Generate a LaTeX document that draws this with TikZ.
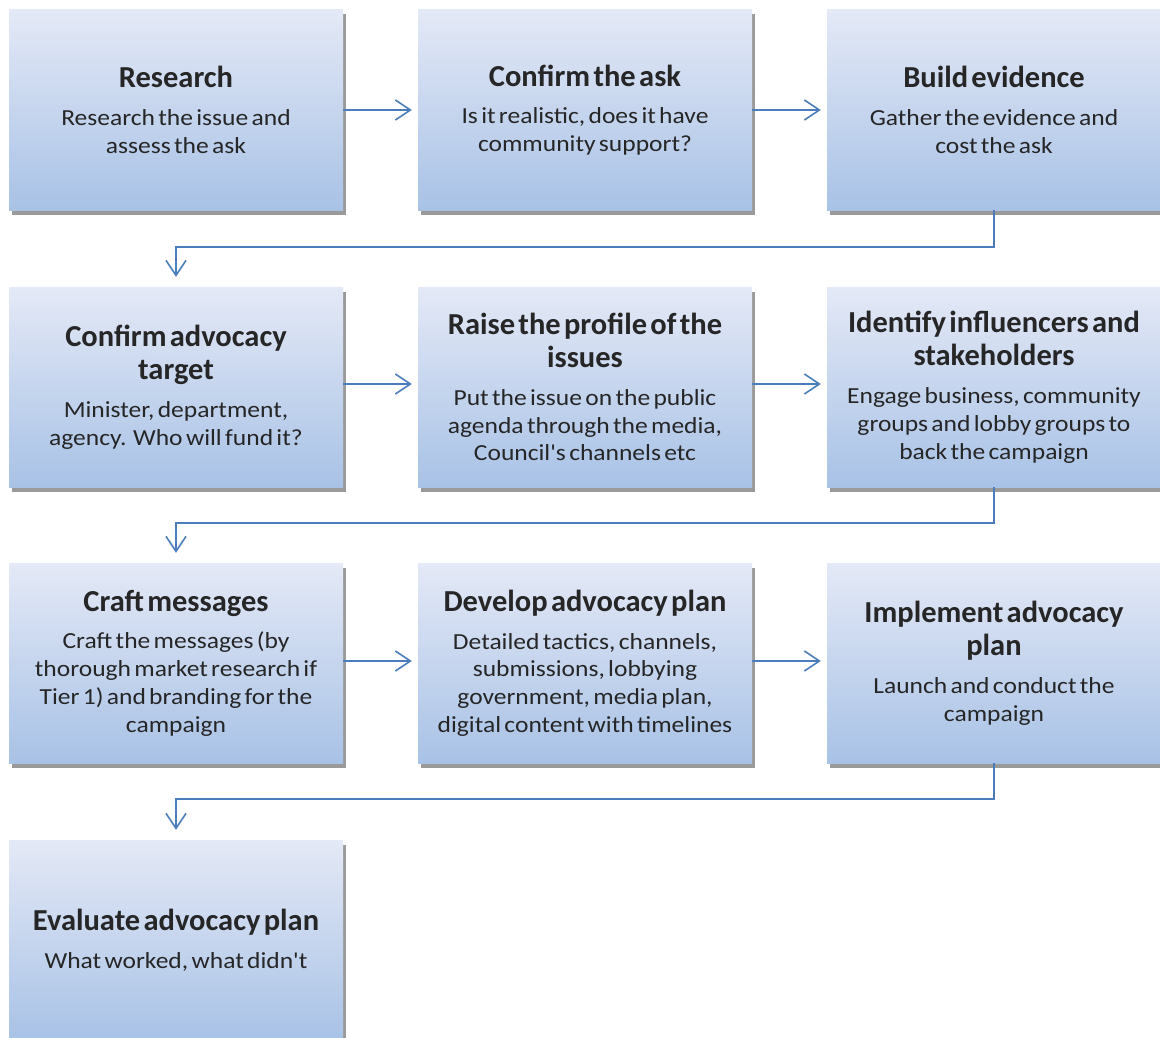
\documentclass[tikz,border=0pt]{standalone}
\usepackage{fontspec}
\setmainfont{Carlito}
\newfontfamily\bodyfont{Carlito}[FakeStretch=1.11]
\newfontfamily\titlefont{Carlito}
\usetikzlibrary{arrows.meta,shadows}
\definecolor{boxtop}{HTML}{E4E9F6}
\definecolor{boxbot}{HTML}{A8C2E6}
\definecolor{conncol}{HTML}{4A7DBA}
\definecolor{txtcol}{HTML}{262626}
\definecolor{shadowcol}{HTML}{9A9A9A}
\newcommand\boxcontent[2]{{\titlefont\fontsize{30.5}{33.5}\selectfont\bfseries #1\par}\vspace{10pt}{\bodyfont\fontsize{23}{27.7}\selectfont #2\par}}
\tikzset{
  stepbox/.style={rectangle, minimum width=334pt, minimum height=200pt, inner sep=0pt,
    top color=boxtop, bottom color=boxbot, draw=none, text=txtcol,
    text width=330pt, align=center,
    drop shadow={shadow xshift=2.5pt, shadow yshift=-4.5pt, fill=shadowcol, opacity=1}},
  conn/.style={draw=conncol, line width=1.8pt, -{Straight Barb[length=15pt,width=20pt,line width=1.6pt]}}
}
\begin{document}
\begin{tikzpicture}[x=1pt,y=-1pt]
\clip (0,0) rectangle (1160,1038);
\fill[white] (0,0) rectangle (1160,1038);
\node[stepbox] (n1) at (176,110) {\boxcontent{Research}{Research the issue and\\assess the ask}};
\node[stepbox] (n2) at (585,110) {\boxcontent{Confirm the ask}{Is it realistic, does it have\\community support?}};
\node[stepbox] (n3) at (994,110) {\boxcontent{Build evidence}{Gather the evidence and\\cost the ask}};
\node[stepbox] (n4) at (176,387) {\boxcontent{Confirm advocacy\\target}{Minister, department,\\agency.\ \ Who will fund it?}};
\node[stepbox] (n5) at (585,387) {\boxcontent{Raise the profile of the\\issues}{Put the issue on the public\\agenda through the media,\\Council's channels etc}};
\node[stepbox] (n6) at (994,387) {\boxcontent{Identify influencers and\\stakeholders}{Engage business, community\\groups and lobby groups to\\back the campaign}};
\node[stepbox] (n7) at (176,663) {\boxcontent{Craft messages}{Craft the messages (by\\thorough market research if\\Tier 1) and branding for the\\campaign}};
\node[stepbox] (n8) at (585,663) {\boxcontent{Develop advocacy plan}{Detailed tactics, channels,\\submissions, lobbying\\government, media plan,\\digital content with timelines}};
\node[stepbox] (n9) at (994,663) {\boxcontent{Implement advocacy\\plan}{Launch and conduct the\\campaign}};
\node[stepbox] (n10) at (176,940) {\boxcontent{Evaluate advocacy plan}{What worked, what didn't}};
\draw[conn] (n1.east) -- ([xshift=-6pt]n2.west);
\draw[conn] (n2.east) -- ([xshift=-6pt]n3.west);
\draw[conn] ([yshift=3pt]n4.east) -- ([xshift=-6pt,yshift=3pt]n5.west);
\draw[conn] ([yshift=3pt]n5.east) -- ([xshift=-6pt,yshift=3pt]n6.west);
\draw[conn] ([yshift=2pt]n7.east) -- ([xshift=-6pt,yshift=2pt]n8.west);
\draw[conn] ([yshift=2pt]n8.east) -- ([xshift=-6pt,yshift=2pt]n9.west);
\draw[conn] (n3.south) -- ++(0,37) -| ([yshift=10pt]n4.north);
\draw[conn] (n6.south) -- ++(0,36) -| ([yshift=10pt]n7.north);
\draw[conn] (n9.south) -- ++(0,36) -| ([yshift=10pt]n10.north);
\end{tikzpicture}
\end{document}
